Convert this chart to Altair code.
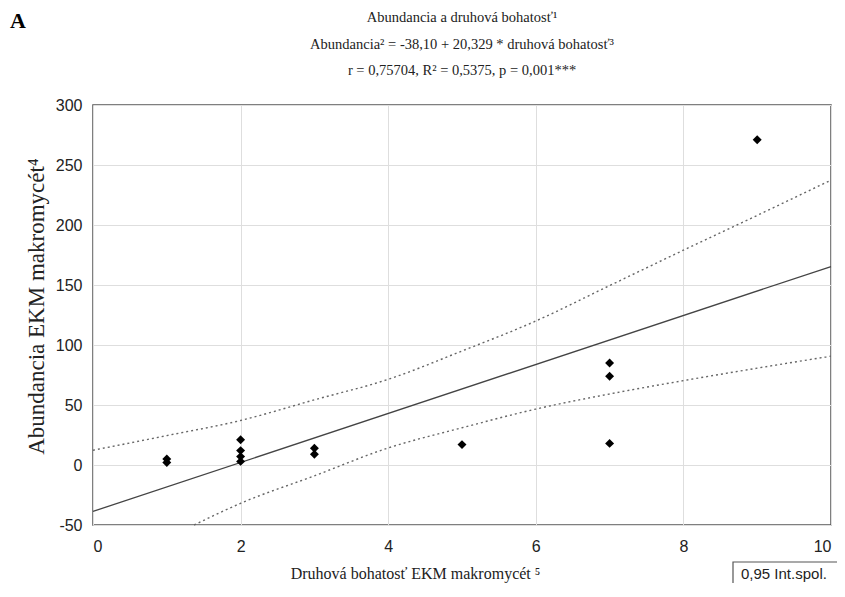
import altair as alt
import pandas as pd

# ---- data ----
richness = [1, 1, 2, 2, 2, 2, 3, 3, 5, 7, 7, 7, 9]
abundance = [5, 2, 21, 12, 7, 3, 14, 9, 17, 85, 74, 18, 271]

band_upper_x = [0, 1, 2, 3, 4, 5, 6, 7, 8, 9, 10]
band_upper_y = [12.3, 24.5, 37.1, 54.3, 71.4, 95, 120, 149.5, 179, 208, 237.4]
band_lower_x = [1.37, 2, 3, 4, 5, 6, 7, 8, 9, 10]
band_lower_y = [-50, -31.9, -9, 14.2, 31, 46.6, 59.2, 70.3, 80.7, 90.7]

x_ticks = [0, 2, 4, 6, 8, 10]
y_ticks = [-50, 0, 50, 100, 150, 200, 250, 300]

title_lines = [
    "Abundancia a druhová bohatosť¹",
    "Abundancia² = -38,10 + 20,329 * druhová bohatosť³",
    "r = 0,75704, R² = 0,5375, p = 0,001***",
]
x_title = "Druhová bohatosť EKM makromycét ⁵"
y_title = "Abundancia EKM makromycét⁴"
band_label = "0,95 Int.spol."
panel_label = "A"

# ---- tables ----
pts = pd.DataFrame({"x": richness, "y": abundance})
bands = pd.concat([
    pd.DataFrame({"x": band_upper_x, "y": band_upper_y, "side": "upper"}),
    pd.DataFrame({"x": band_lower_x, "y": band_lower_y, "side": "lower"}),
])
lab = pd.DataFrame({"t": [panel_label]})
ttl = pd.DataFrame({"t": [title_lines]})
leg = pd.DataFrame({"t": [band_label]})

xs = alt.Scale(domain=[0, 10], nice=False)
ys = alt.Scale(domain=[-50, 300], nice=False)

xax = alt.Axis(values=x_ticks, labelExpr="'' + datum.value", title=x_title,
               titleX=322, titleY=53, titleAlign="center",
               titleBaseline="alphabetic", titleFontSize=16, labelPadding=13)
yax = alt.Axis(values=y_ticks, labelExpr="'' + datum.value", title=y_title,
               titleX=-57, titleY=201, titleAlign="center",
               titleBaseline="middle", titleFontSize=23, labelPadding=11)

points = alt.Chart(pts).mark_point(shape="diamond", filled=True, size=80,
                                   color="black", opacity=1).encode(
    x=alt.X("x:Q", scale=xs, axis=xax),
    y=alt.Y("y:Q", scale=ys, axis=yax),
)

fit = alt.Chart(pts).transform_regression(
    "x", "y", extent=[0, 10]
).mark_line(color="#444", strokeWidth=1.3).encode(
    x=alt.X("x:Q", scale=xs),
    y=alt.Y("y:Q", scale=ys),
)

band = alt.Chart(bands).mark_line(strokeDash=[2, 3], strokeWidth=1.4,
                                  color="#666", interpolate="monotone").encode(
    x=alt.X("x:Q", scale=xs),
    y=alt.Y("y:Q", scale=ys),
    detail="side:N",
)

# legend box for the confidence band
leg_box = alt.Chart(leg).mark_rect(fill="white", stroke="#555",
                                   strokeWidth=1.2).encode(
    x=alt.value(640), x2=alt.value(760), y=alt.value(457), y2=alt.value(480)
)
leg_text = alt.Chart(leg).mark_text(align="left", baseline="middle",
                                    font="Liberation Sans", fontSize=15,
                                    color="#222").encode(
    x=alt.value(648), y=alt.value(469), text="t:N"
)

letter = alt.Chart(lab).mark_text(align="left", baseline="alphabetic",
                                  font="Liberation Serif", fontWeight="bold",
                                  fontSize=22, color="black").encode(
    x=alt.value(-83), y=alt.value(-77), text="t:N"
)

heading = alt.Chart(ttl).mark_text(align="center", baseline="alphabetic",
                                   font="Liberation Serif", fontSize=14.5,
                                   lineHeight=26.5, color="#222").encode(
    x=alt.value(369), y=alt.value(-83), text="t"
)

chart = alt.layer(band, fit, points, leg_box, leg_text, letter, heading).properties(
    width=738, height=420,
    autosize=alt.AutoSizeParams(type="none"),
    padding={"left": 85, "top": 97, "right": 6, "bottom": 58},
).configure_view(
    stroke="#555", strokeWidth=1.5
).configure_axis(
    grid=True, gridColor="#dedede", gridWidth=1, domain=False, ticks=False,
    labelFont="Liberation Sans", labelFontSize=16, labelColor="#222",
    titleFont="Liberation Serif", titleFontWeight="normal",
    titleColor="#222",
)

chart.save("out.html", embed_options={"renderer": "svg", "actions": False})
